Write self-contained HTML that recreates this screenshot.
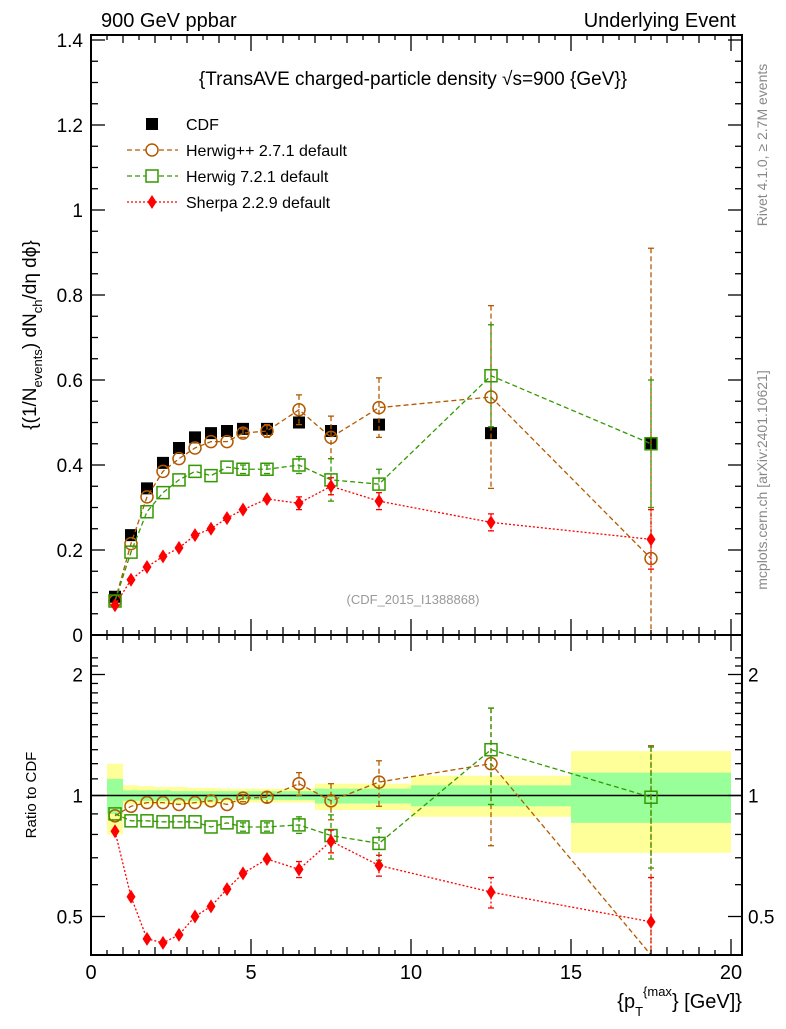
<!DOCTYPE html>
<html><head><meta charset="utf-8"><style>
body{margin:0;background:#fff;}
svg text{font-family:"Liberation Sans",sans-serif;}
</style></head><body>
<svg id="c" width="786" height="1024" xmlns="http://www.w3.org/2000/svg">
<g id="bands"></g>
<g id="marks"></g>
<g id="axes"></g>
<text x="101" y="27" font-size="20">900 GeV ppbar</text>
<text x="736" y="27" font-size="20" text-anchor="end">Underlying Event</text>
<text x="413" y="85" font-size="19" text-anchor="middle">{TransAVE charged-particle density √s=900 {GeV}}</text>
<text x="413" y="604" font-size="13" fill="#999" text-anchor="middle">(CDF_2015_I1388868)</text>
<text transform="translate(36,335) rotate(-90)" font-size="19" text-anchor="middle">{(1/N<tspan font-size="13" dy="6">events</tspan><tspan dy="-6">) dN</tspan><tspan font-size="13" dy="6">ch</tspan><tspan dy="-6">/dη dϕ}</tspan></text>
<text transform="translate(36,795) rotate(-90)" font-size="15" text-anchor="middle">Ratio to CDF</text>
<text x="742" y="1008" font-size="20" text-anchor="end">{p<tspan font-size="13" dy="8">T</tspan><tspan font-size="13" dy="-20">{max</tspan><tspan dy="12">} [GeV]}</tspan></text>
<text transform="translate(767,145) rotate(-90)" font-size="14" fill="#888" text-anchor="middle">Rivet 4.1.0, ≥ 2.7M events</text>
<text transform="translate(767,480) rotate(-90)" font-size="14" fill="#888" text-anchor="middle">mcplots.cern.ch [arXiv:2401.10621]</text>
<g id="legend"></g>
</svg>
<script>
const xc=[0.75,1.25,1.75,2.25,2.75,3.25,3.75,4.25,4.75,5.5,6.5,7.5,9,12.5,17.5];
const binLo=[0.5,1,1.5,2,2.5,3,3.5,4,4.5,5,6,7,8,10,15];
const binHi=[1,1.5,2,2.5,3,3.5,4,4.5,5,6,7,8,10,15,20];
const cdf=[0.09,0.235,0.345,0.405,0.44,0.465,0.475,0.48,0.485,0.485,0.5,0.48,0.495,0.475,0.45];
const hpp=[0.08,0.215,0.325,0.385,0.415,0.44,0.455,0.455,0.475,0.48,0.53,0.465,0.535,0.56,0.18];
const hppErr=[0,0,0,0,0,0,0,0,0.01,0.015,0.035,0.05,0.07,0.215,0.73];
const h7=[0.08,0.195,0.29,0.335,0.365,0.385,0.375,0.395,0.39,0.39,0.4,0.365,0.355,0.61,0.45];
const h7Err=[0,0,0,0,0,0,0,0,0.01,0.01,0.02,0.05,0.035,0.12,0.15];
const sh=[0.07,0.13,0.16,0.185,0.205,0.235,0.25,0.275,0.295,0.32,0.31,0.35,0.315,0.265,0.225];
const shErr=[0,0,0,0,0,0,0,0,0,0,0.015,0.02,0.02,0.02,0.07];
const rHpp=[0.89,0.94,0.96,0.96,0.95,0.96,0.97,0.95,0.985,0.99,1.07,0.97,1.08,1.2,0.33];
const rHppErr=[0,0,0,0,0,0,0,0,0.02,0.03,0.07,0.1,0.14,0.45,1];
const rH7=[0.9,0.865,0.865,0.86,0.86,0.86,0.835,0.855,0.835,0.835,0.845,0.795,0.76,1.3,0.99];
const rH7Err=[0,0,0,0,0,0,0,0,0.02,0.02,0.04,0.1,0.07,0.35,0.33];
const rSh=[0.815,0.56,0.44,0.43,0.45,0.5,0.53,0.585,0.64,0.695,0.655,0.77,0.67,0.575,0.485];
const rShErr=[0,0,0,0,0,0,0,0,0,0,0.03,0.05,0.04,0.05,0.14];
const yelHi=[1.2,1.06,1.055,1.05,1.05,1.045,1.045,1.04,1.04,1.04,1.04,1.07,1.07,1.12,1.29];
const yelLo=[0.8,0.95,0.95,0.95,0.95,0.95,0.95,0.96,0.96,0.96,0.96,0.92,0.92,0.885,0.72];
const grnHi=[1.1,1.03,1.03,1.03,1.025,1.025,1.025,1.025,1.025,1.025,1.025,1.04,1.04,1.06,1.14];
const grnLo=[0.9,0.97,0.97,0.97,0.97,0.97,0.97,0.975,0.975,0.975,0.975,0.955,0.955,0.94,0.855];
const mainTicks=[0,0.2,0.4,0.6,0.8,1,1.2,1.4];
const mainTickLabels=["0","0.2","0.4","0.6","0.8","1","1.2","1.4"];
const xTicks=[0,5,10,15,20];
const ratioTicks=[0.5,1,2];

const L=91,R=742,T=35,MB=635,RB=955;
const X=v=>L+32*v;
const Y=v=>MB-425*v;
const RY=v=>795.5-121*Math.log2(v);
const NS="http://www.w3.org/2000/svg";
function mk(p,tag,a){const e=document.createElementNS(NS,tag);for(const k in a)e.setAttribute(k,a[k]);p.appendChild(e);return e;}
const bands=document.getElementById('bands'),marks=document.getElementById('marks'),axes=document.getElementById('axes'),leg=document.getElementById('legend');

for(let i=0;i<xc.length;i++){
  const y1=mk(bands,'rect',{x:X(binLo[i]),y:RY(yelHi[i]),width:X(binHi[i])-X(binLo[i]),height:RY(yelLo[i])-RY(yelHi[i]),fill:'#ffff99'});
  
  
  const g1=mk(bands,'rect',{x:X(binLo[i]),y:RY(grnHi[i]),width:X(binHi[i])-X(binLo[i]),height:RY(grnLo[i])-RY(grnHi[i]),fill:'#99ff99'});
  
  
}
const ref=mk(bands,'line',{x1:L,x2:R,y1:RY(1),y2:RY(1),stroke:'#000','stroke-width':1.5});



function clipY(y,top,bot){return Math.max(top,Math.min(bot,y));}
function series(vals,errs,fy,top,bot,color,dash,marker,name){
  const g=mk(marks,'g',{});
  
  
  let pts=vals.map((v,i)=>X(xc[i])+','+clipY(fy(v),top,bot)).join(' ');
  mk(g,'polyline',{points:pts,fill:'none',stroke:color,'stroke-width':1.3,'stroke-dasharray':dash});
  vals.forEach((v,i)=>{
    const cx=X(xc[i]),cy=fy(v);
    if(errs&&errs[i]>0){
      const a=clipY(fy(v+errs[i]),top,bot),b=clipY(fy(Math.max(v-errs[i],1e-3)),top,bot);
      mk(g,'line',{x1:cx,x2:cx,y1:a,y2:b,stroke:color,'stroke-width':1.3,'stroke-dasharray':dash});
      mk(g,'line',{x1:cx-3,x2:cx+3,y1:a,y2:a,stroke:color,'stroke-width':1.3});
      mk(g,'line',{x1:cx-3,x2:cx+3,y1:b,y2:b,stroke:color,'stroke-width':1.3});
    }
    if(cy<top||cy>bot)return;
    let m;
    if(marker==='sq')m=mk(g,'rect',{x:cx-6,y:cy-6,width:12,height:12,fill:'#000'});
    else if(marker==='osq')m=mk(g,'rect',{x:cx-6,y:cy-6,width:12,height:12,fill:'none',stroke:color,'stroke-width':1.5});
    else if(marker==='oc')m=mk(g,'circle',{cx:cx,cy:cy,r:6,fill:'none',stroke:color,'stroke-width':1.5});
    else m=mk(g,'polygon',{points:`${cx},${cy-7} ${cx+4.5},${cy} ${cx},${cy+7} ${cx-4.5},${cy}`,fill:color});
    
    
  });
}
const cdfG=mk(marks,'g',{});


cdf.forEach((v,i)=>{const r=mk(cdfG,'rect',{x:X(xc[i])-6,y:Y(v)-6,width:12,height:12,fill:'#000'});
  
  });
series(hpp,hppErr,Y,T,MB,'#b35900','5,3','oc','herwigpp-series');
series(h7,h7Err,Y,T,MB,'#339900','5,3','osq','herwig7-series');
series(sh,shErr,Y,T,MB,'#ff0000','2,2','dia','sherpa-series');
series(rHpp,rHppErr,RY,MB,RB,'#b35900','5,3','oc','herwigpp-ratio');
series(rH7,rH7Err,RY,MB,RB,'#339900','5,3','osq','herwig7-ratio');
series(rSh,rShErr,RY,MB,RB,'#ff0000','2,2','dia','sherpa-ratio');

mk(axes,'rect',{x:L,y:T,width:R-L,height:MB-T,fill:'none',stroke:'#000','stroke-width':2});
mk(axes,'rect',{x:L,y:MB,width:R-L,height:RB-MB,fill:'none',stroke:'#000','stroke-width':2});
for(let v=0;v<=1.4001;v+=0.05){const maj=Math.abs(v/0.2-Math.round(v/0.2))<1e-6;const l=maj?14:7;
  mk(axes,'line',{x1:L,x2:L+l,y1:Y(v),y2:Y(v),stroke:'#000','stroke-width':1.3});
  mk(axes,'line',{x1:R,x2:R-l,y1:Y(v),y2:Y(v),stroke:'#000','stroke-width':1.3});}
mainTicks.forEach((v,i)=>{const t=mk(axes,'text',{x:L-8,y:Y(v)+7,'font-size':19,'text-anchor':'end'});t.textContent=mainTickLabels[i];
  
  });
for(let v=0;v<=20.01;v+=0.5){const maj=v%5===0;const l=maj?16:(v%1===0?8:5);
  [MB,RB].forEach(b=>{mk(axes,'line',{x1:X(v),x2:X(v),y1:b,y2:b-l,stroke:'#000','stroke-width':1.3});});
  mk(axes,'line',{x1:X(v),x2:X(v),y1:T,y2:T+l,stroke:'#000','stroke-width':1.3});
  mk(axes,'line',{x1:X(v),x2:X(v),y1:MB,y2:MB+l,stroke:'#000','stroke-width':1.3});}
xTicks.forEach(v=>{const t=mk(axes,'text',{x:X(v),y:979,'font-size':20,'text-anchor':'middle'});t.textContent=v;
  
  });
[0.4,0.5,0.6,0.7,0.8,0.9,1,1.1,1.2,1.3,1.4,1.5,1.6,1.7,1.8,1.9,2,2.1,2.2].forEach(v=>{const y=RY(v);if(y<MB||y>RB)return;
  const maj=ratioTicks.includes(v);const l=maj?14:7;
  mk(axes,'line',{x1:L,x2:L+l,y1:y,y2:y,stroke:'#000','stroke-width':1.3});
  mk(axes,'line',{x1:R,x2:R-l,y1:y,y2:y,stroke:'#000','stroke-width':1.3});});
ratioTicks.forEach(v=>{
  const t=mk(axes,'text',{x:L-8,y:RY(v)+7,'font-size':19,'text-anchor':'end'});t.textContent=v;
  
  
  const t2=mk(axes,'text',{x:R+6,y:RY(v)+7,'font-size':19});t2.textContent=v;
  
  });
const entries=[['CDF','#000','','sq'],['Herwig++ 2.7.1 default','#b35900','5,3','oc'],['Herwig 7.2.1 default','#339900','5,3','osq'],['Sherpa 2.2.9 default','#ff0000','2,2','dia']];
entries.forEach((e,i)=>{const y=124+26*i;const g=mk(leg,'g',{});
  
  
  if(i>0)mk(g,'line',{x1:127,x2:178,y1:y,y2:y,stroke:e[1],'stroke-width':1.3,'stroke-dasharray':e[2]});
  const cx=152;
  if(e[3]==='sq')mk(g,'rect',{x:cx-6,y:y-6,width:12,height:12,fill:'#000'});
  else if(e[3]==='oc')mk(g,'circle',{cx:cx,cy:y,r:6,fill:'#fff',stroke:e[1],'stroke-width':1.5});
  else if(e[3]==='osq')mk(g,'rect',{x:cx-6,y:y-6,width:12,height:12,fill:'#fff',stroke:e[1],'stroke-width':1.5});
  else mk(g,'polygon',{points:`${cx},${y-7} ${cx+4.5},${y} ${cx},${y+7} ${cx-4.5},${y}`,fill:e[1]});
  const t=mk(g,'text',{x:186,y:y+6,'font-size':16});t.textContent=e[0];});
</script>
</body></html>
